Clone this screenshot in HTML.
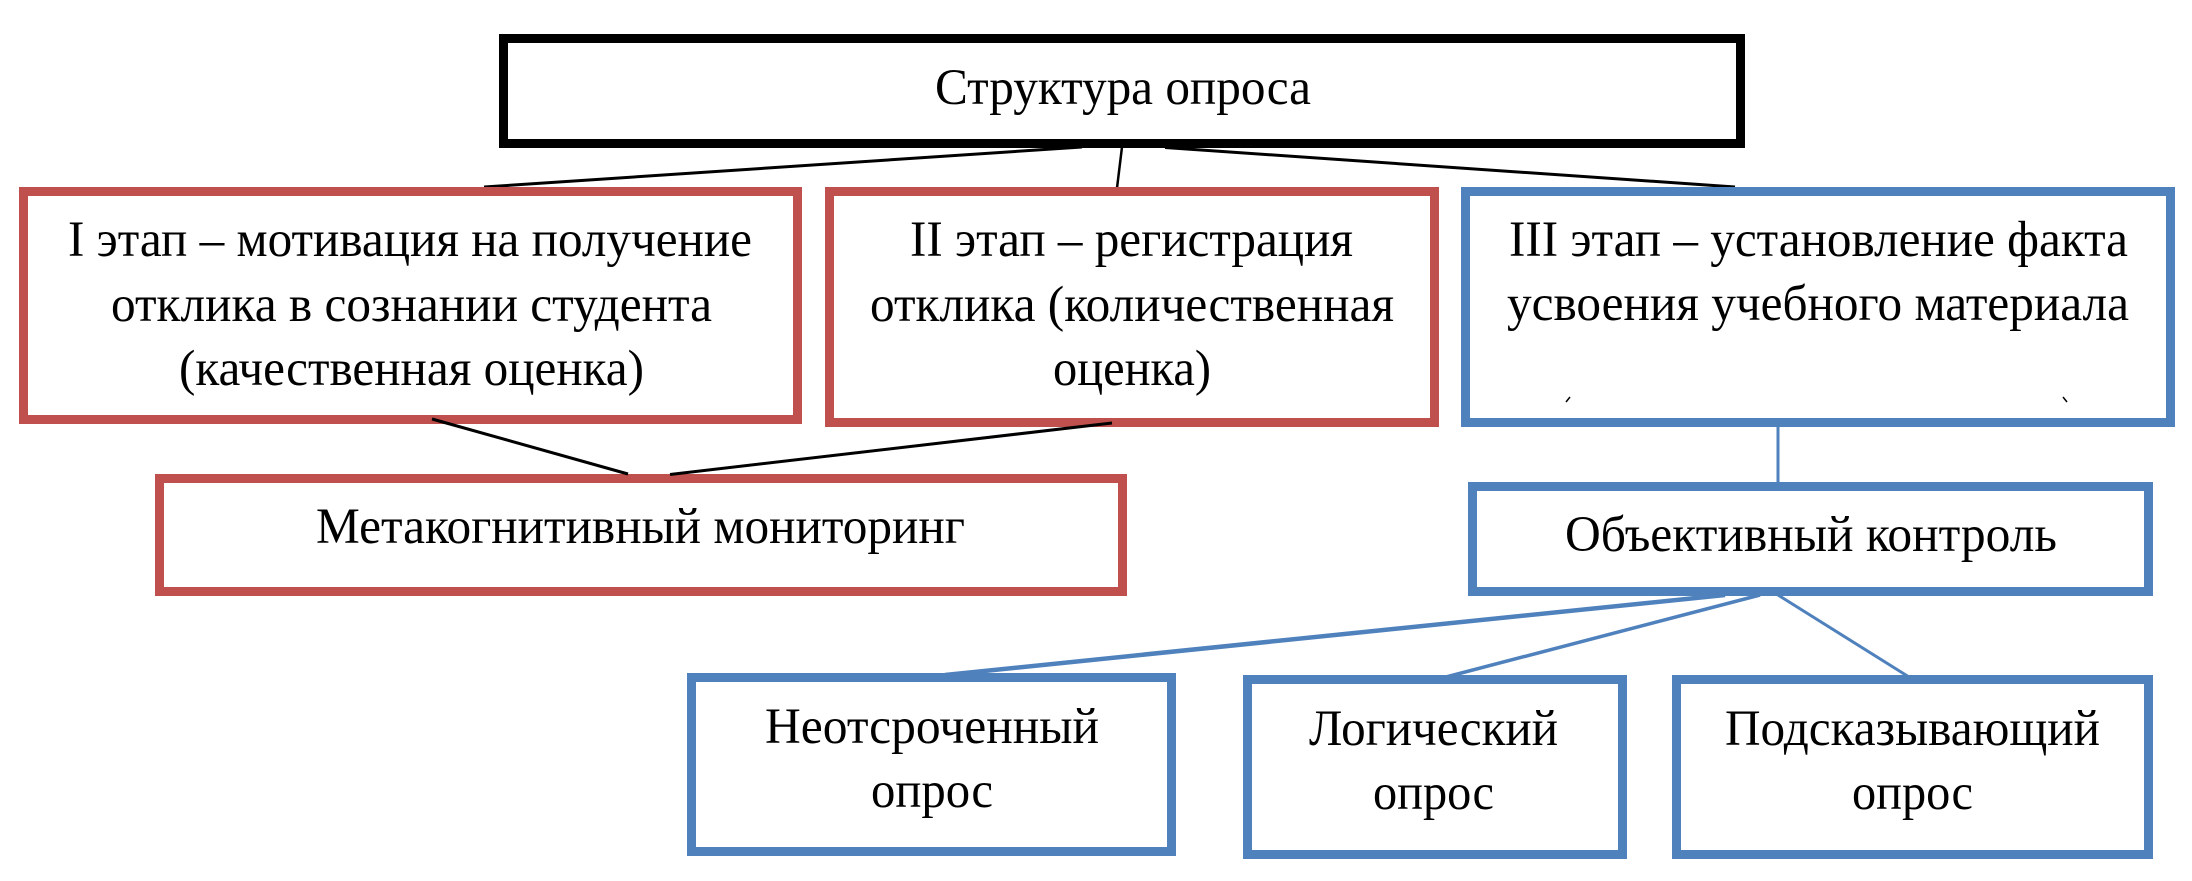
<!DOCTYPE html>
<html lang="ru"><head><meta charset="utf-8"><title>Структура опроса</title>
<style>html,body{margin:0;padding:0;background:#fff;width:2192px;height:881px;overflow:hidden}
svg{display:block}
text{font-family:"Liberation Serif",serif;font-size:51px;fill:#000}
</style></head><body>
<svg width="2192" height="881" viewBox="0 0 2192 881" xmlns="http://www.w3.org/2000/svg">
<rect width="2192" height="881" fill="#fff"/>
<g fill="none" stroke="#000">
<line x1="1082" y1="147" x2="484" y2="187" stroke-width="3"/>
<line x1="1122" y1="147" x2="1117" y2="188" stroke-width="2.500"/>
<line x1="1165" y1="147.500" x2="1735" y2="187" stroke-width="3"/>
</g>
<g fill="none" stroke="#4F81BD">
<line x1="1778" y1="427" x2="1778" y2="482" stroke-width="3"/>
<line x1="1725" y1="595" x2="945" y2="675" stroke-width="4.500"/>
<line x1="1760" y1="595" x2="1446" y2="677" stroke-width="3.500"/>
<line x1="1778" y1="595" x2="1909" y2="677" stroke-width="3"/>
</g>
<g fill="#fff" stroke-width="9">
<rect x="503.500" y="38.500" width="1237" height="105" stroke="#000"/>
<rect x="23.500" y="191.500" width="774" height="228" stroke="#C0504D"/>
<rect x="829.500" y="191.500" width="605" height="231" stroke="#C0504D"/>
<rect x="1465.500" y="191.500" width="705" height="231" stroke="#4F81BD"/>
<rect x="159.500" y="478.500" width="963" height="113" stroke="#C0504D"/>
<rect x="1472.500" y="486.500" width="676" height="105" stroke="#4F81BD"/>
<rect x="691.500" y="677.500" width="480" height="174" stroke="#4F81BD"/>
<rect x="1247.500" y="679.500" width="375" height="175" stroke="#4F81BD"/>
<rect x="1676.500" y="679.500" width="472" height="175" stroke="#4F81BD"/>
</g>
<g fill="none" stroke="#000" stroke-width="3">
<line x1="432" y1="419" x2="628" y2="474"/>
<line x1="1112" y1="423" x2="670" y2="474.500"/>
</g>
<text x="935" y="104" textLength="376" lengthAdjust="spacingAndGlyphs">Структура опроса</text>
<text x="68" y="256" textLength="684" lengthAdjust="spacingAndGlyphs">I этап – мотивация на получение</text>
<text x="111" y="321" textLength="601" lengthAdjust="spacingAndGlyphs">отклика в сознании студента</text>
<text x="179" y="385" textLength="465" lengthAdjust="spacingAndGlyphs">(качественная оценка)</text>
<text x="910" y="256" textLength="443" lengthAdjust="spacingAndGlyphs">II этап – регистрация</text>
<text x="870" y="321" textLength="524" lengthAdjust="spacingAndGlyphs">отклика (количественная</text>
<text x="1053" y="385" textLength="158" lengthAdjust="spacingAndGlyphs">оценка)</text>
<text x="1509" y="256" textLength="619" lengthAdjust="spacingAndGlyphs">III этап – установление факта</text>
<text x="1507" y="320" textLength="622" lengthAdjust="spacingAndGlyphs">усвоения учебного материала</text>
<text x="316" y="543" textLength="649" lengthAdjust="spacingAndGlyphs">Метакогнитивный мониторинг</text>
<text x="1565" y="551" textLength="492" lengthAdjust="spacingAndGlyphs">Объективный контроль</text>
<text x="765" y="743" textLength="334" lengthAdjust="spacingAndGlyphs">Неотсроченный</text>
<text x="871" y="807" textLength="122" lengthAdjust="spacingAndGlyphs">опрос</text>
<text x="1309" y="745" textLength="249" lengthAdjust="spacingAndGlyphs">Логический</text>
<text x="1373" y="809" textLength="121" lengthAdjust="spacingAndGlyphs">опрос</text>
<text x="1725" y="745" textLength="375" lengthAdjust="spacingAndGlyphs">Подсказывающий</text>
<text x="1852" y="809" textLength="121" lengthAdjust="spacingAndGlyphs">опрос</text>
<g stroke="#000" stroke-width="1.500" fill="none">
<line x1="1566" y1="402" x2="1570" y2="397"/>
<line x1="2063" y1="397" x2="2067" y2="402"/>
</g>
</svg>
</body></html>
